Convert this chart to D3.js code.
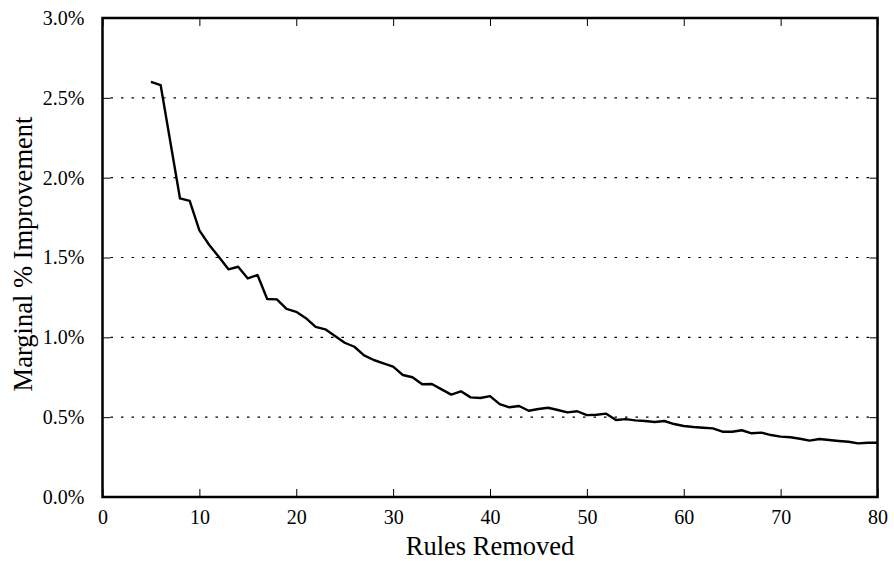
<!DOCTYPE html>
<html><head><meta charset="utf-8">
<script src="https://cdn.jsdelivr.net/npm/d3@7"></script>
<style>body{margin:0;background:#fff}svg{display:block}</style>
</head><body><svg id="c" width="894" height="561"></svg>
<script>
const rulesRemoved = [5,6,7,8,9,10,11,12,13,14,15,16,17,18,19,20,21,22,23,24,25,26,27,28,29,30,31,32,33,34,35,36,37,38,39,40,41,42,43,44,45,46,47,48,49,50,51,52,53,54,55,56,57,58,59,60,61,62,63,64,65,66,67,68,69,70,71,72,73,74,75,76,77,78,79,80];
const improvement = [2.60,2.58,2.225,1.87,1.855,1.67,1.58,1.505,1.426,1.442,1.369,1.39,1.24,1.238,1.178,1.16,1.12,1.066,1.05,1.008,0.966,0.941,0.887,0.858,0.837,0.816,0.764,0.75,0.706,0.708,0.674,0.641,0.662,0.624,0.62,0.632,0.582,0.562,0.57,0.54,0.551,0.559,0.545,0.53,0.537,0.513,0.515,0.522,0.482,0.488,0.48,0.476,0.47,0.476,0.457,0.445,0.438,0.434,0.43,0.409,0.409,0.418,0.399,0.403,0.388,0.378,0.374,0.365,0.353,0.363,0.357,0.351,0.346,0.336,0.34,0.34];
const xTicks = [0,10,20,30,40,50,60,70,80];
const yTicks = [0,0.5,1.0,1.5,2.0,2.5,3.0];
const xLabel = "Rules Removed";
const yLabel = "Marginal % Improvement";

const FONT = "'Liberation Serif','Times New Roman',Times,Tinos,'DejaVu Serif',serif";
const W=894,H=561;
const svg=d3.select("#c");
const x=d3.scaleLinear().domain([0,80]).range([102.5,877.5]);
const y=d3.scaleLinear().domain([0,3]).range([497,18]);
const tl=8;
// grid
svg.append("g").selectAll("line").data(yTicks.filter(v=>v>0&&v<3)).join("line")
 .attr("x1",x(0)).attr("x2",x(80)).attr("y1",d=>y(d)).attr("y2",d=>y(d))
 .attr("stroke","#000").attr("stroke-width",1.1).attr("stroke-dasharray","2.5,8").attr("stroke-dashoffset",-8);
// axes
const fmt=d=>d.toFixed(1)+"%";
const styleText=g=>{g.select(".domain").remove();g.attr("font-family",null);g.selectAll("text").style("font-family",FONT).style("font-size","20px").attr("fill","#000");};
svg.append("g").attr("transform",`translate(0,${y(0)})`).call(d3.axisBottom(x).tickValues(xTicks).tickSizeInner(-tl).tickSizeOuter(0).tickPadding(13))
 .call(styleText);
svg.append("g").attr("transform",`translate(0,${y(3)})`).call(d3.axisTop(x).tickValues(xTicks).tickSizeInner(-tl).tickSizeOuter(0).tickFormat(""))
 .call(styleText);
svg.append("g").attr("transform",`translate(${x(0)},0)`).call(d3.axisLeft(y).tickValues(yTicks).tickFormat(fmt).tickSizeInner(-tl).tickSizeOuter(0).tickPadding(18))
 .call(styleText);
svg.append("g").attr("transform",`translate(${x(80)},0)`).call(d3.axisRight(y).tickValues(yTicks).tickFormat("").tickSizeInner(-tl).tickSizeOuter(0))
 .call(styleText);
svg.selectAll(".tick line").attr("stroke","#000").attr("stroke-width",1);
// line
svg.append("path").datum(rulesRemoved.map((r,i)=>[r,improvement[i]]))
 .attr("fill","none").attr("stroke","#000").attr("stroke-width",2.4).attr("stroke-linejoin","round")
 .attr("d",d3.line().x(d=>x(d[0])).y(d=>y(d[1])));
// frame
svg.append("rect").attr("x",x(0)).attr("y",y(3)).attr("width",x(80)-x(0)).attr("height",y(0)-y(3))
 .attr("fill","none").attr("stroke","#000").attr("stroke-width",2.5);
// labels
svg.append("text").attr("x",(x(0)+x(80))/2).attr("y",555).attr("text-anchor","middle")
 .style("font-family",FONT).style("font-size","26.5px").text(xLabel);
svg.append("text").attr("transform",`translate(32,254) rotate(-90)`).attr("text-anchor","middle")
 .style("font-family",FONT).style("font-size","26.5px").text(yLabel);
</script></body></html>
